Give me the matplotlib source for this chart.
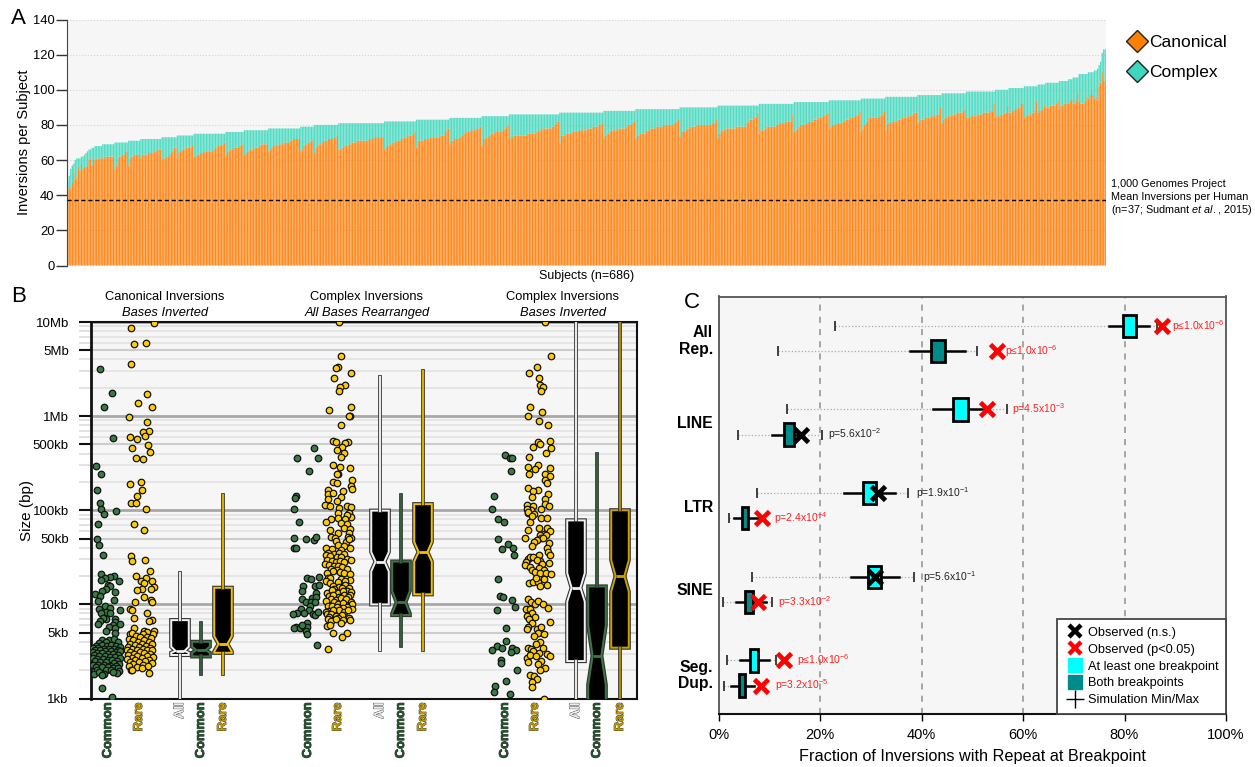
import numpy as np
import matplotlib
matplotlib.use('Agg')
import matplotlib.pyplot as plt
import matplotlib.patheffects as pe
from matplotlib.lines import Line2D

plt.rcParams['font.family'] = ['Liberation Sans', 'DejaVu Sans']
plt.rcParams['mathtext.fontset'] = 'custom'
plt.rcParams['mathtext.rm'] = 'Liberation Sans'
plt.rcParams['mathtext.it'] = 'Liberation Sans:italic'
plt.rcParams['mathtext.default'] = 'regular'

W, H = 1255, 767

# panel A: (total inversions, canonical count of each subject at that total)
subject_levels = [
    (48, [43]), (51, [44]), (55, [44]), (57, [47]), (58, [53]), (60, [49]), (61, [50, 56, 54]), (62, [58, 55]),
    (63, [56]), (64, [56]), (65, [57]), (66, [60, 61]), (67, [57, 60]),
    (68, [60, 60, 61, 61, 61]),
    (69, [61, 61, 62, 62, 62, 62, 62, 62]),
    (70, [55, 57, 61, 62, 62, 63, 63, 65, 65]),
    (71, [57, 61, 62, 62, 63, 63, 63, 63]),
    (72, [61, 63, 63, 63, 63, 64, 64, 64, 64, 65, 65, 66, 66, 66]),
    (73, [60, 61, 61, 62, 62, 63, 64, 65, 67, 67]),
    (74, [61, 64, 65, 66, 66, 66, 67, 67, 67, 67, 68]),
    (75, [62, 62, 63, 63, 64, 64, 64, 65, 65, 65, 65, 65, 65, 66, 67, 67, 68, 68, 68, 69, 70]),
    (76, [63, 65, 65, 66, 66, 67, 67, 67, 67, 68, 68, 69]),
    (77, [63, 64, 65, 65, 66, 66, 66, 67, 67, 67, 68, 68, 69, 69, 69, 69]),
    (78, [65, 66, 67, 68, 68, 68, 68, 69, 69, 69, 70, 70, 70, 70, 71, 71, 72, 72, 72, 72, 72]),
    (79, [65, 66, 68, 68, 69, 70, 70, 71, 72]),
    (80, [64, 67, 68, 69, 69, 70, 71, 71, 71, 72, 72, 72, 72, 73, 73, 74]),
    (81, [66, 66, 67, 67, 68, 68, 68, 69, 69, 70, 70, 70, 71, 71, 71, 71, 71, 71, 71, 71, 72, 72, 72, 73, 73, 73, 73, 73, 73, 73]),
    (82, [66, 67, 68, 68, 69, 69, 70, 70, 71, 71, 71, 72, 72, 73, 73, 73, 74, 74, 74, 75, 76]),
    (83, [67, 71, 71, 71, 71, 72, 72, 72, 72, 73, 73, 73, 73, 73, 73, 73, 74, 74, 74, 76, 77, 78]),
    (84, [69, 71, 71, 72, 72, 72, 73, 73, 74, 75, 75, 76, 76, 76, 77, 77, 77, 77, 78, 78, 79]),
    (85, [68, 72, 72, 73, 73, 74, 75, 75, 75, 76, 76, 76, 76, 76, 77, 78, 79, 80]),
    (86, [72, 73, 73, 74, 74, 74, 74, 74, 74, 74, 74, 74, 75, 75, 75, 75, 75, 75, 76, 76, 77, 77, 78, 78, 78, 78, 78, 78, 79, 79, 80, 81, 82]),
    (87, [70, 74, 74, 74, 75, 75, 75, 75, 76, 76, 76, 76, 76, 77, 77, 77, 77, 77, 77, 78, 78, 78, 79, 79, 79, 79, 80, 80, 81]),
    (88, [73, 74, 75, 75, 76, 77, 77, 77, 77, 78, 77, 78, 78, 78, 78, 79, 80, 80, 80, 81, 82]),
    (89, [72, 74, 74, 75, 75, 75, 75, 76, 77, 77, 78, 78, 78, 79, 79, 79, 79, 79, 80, 80, 80, 80, 80, 80, 80, 81, 81, 82, 83]),
    (90, [73, 76, 76, 76, 77, 78, 78, 79, 79, 79, 79, 80, 80, 80, 80, 80, 80, 80, 80, 80, 80, 81, 81, 81, 83]),
    (91, [73, 75, 76, 77, 77, 78, 78, 78, 78, 78, 78, 78, 79, 79, 79, 79, 79, 79, 79, 81, 82, 83, 83, 83, 84, 84, 87]),
    (92, [75, 77, 77, 77, 78, 79, 79, 79, 79, 79, 79, 80, 80, 81, 81, 81, 81, 81, 82, 82, 82, 82, 86]),
    (93, [76, 77, 78, 79, 80, 80, 80, 80, 81, 81, 82, 82, 82, 83, 83, 83, 84, 84, 84, 85, 85, 86, 87]),
    (94, [78, 79, 80, 80, 80, 81, 81, 81, 81, 82, 82, 83, 83, 83, 84, 84, 84, 85, 85, 86, 88]),
    (95, [76, 78, 80, 81, 82, 84, 84, 84, 84, 84, 84, 84, 85, 85, 86, 88]),
    (96, [77, 80, 81, 81, 82, 82, 82, 82, 83, 83, 83, 84, 84, 84, 84, 85, 85, 85, 86, 87, 87]),
    (97, [81, 82, 83, 83, 83, 84, 84, 84, 84, 85, 85, 85, 85, 86, 86, 90]),
    (98, [81, 83, 84, 84, 85, 85, 85, 86, 86, 86, 87, 87, 87, 87, 88, 89]),
    (99, [84, 84, 84, 85, 85, 85, 85, 85, 86, 86, 86, 87, 87, 87, 87, 87, 88, 88, 92]),
    (100, [84, 85, 85, 85, 86, 86, 87, 87, 91]),
    (101, [87, 87, 88, 88, 89, 89, 90, 90, 92, 92]),
    (102, [84, 85, 85, 86, 86, 87, 87, 88, 93]),
    (103, [87, 88, 88, 89, 91]),
    (104, [90, 90, 90, 91, 91, 91, 91, 92, 94]),
    (105, [89, 91, 91, 92, 92, 92]),
    (106, [92, 94, 95]),
    (107, [92, 92, 94, 98]),
    (109, [93, 92, 92, 92, 93, 96]),
    (110, [95, 97, 100, 97]),
    (111, [95, 96]), (112, [94]), (114, [102]), (116, [104]), (121, [110]), (123, [105, 105]),
]
a_ticks = [0, 20, 40, 60, 80, 100, 120, 140]
thousand_genomes_mean = 37

# panel B: tick positions of the strips/boxes and the size labels
group_titles = ['Canonical Inversions', 'Complex Inversions', 'Complex Inversions']
group_subtitles = ['Bases Inverted', 'All Bases Rearranged', 'Bases Inverted']
strip_pos = [108, 139, 308, 338, 505, 535]
box_pos = [180, 201, 223, 380, 401, 423, 576, 597, 620]
size_ticks = [1e3, 5e3, 1e4, 5e4, 1e5, 5e5, 1e6, 5e6, 1e7]
size_labels = ['1kb', '5kb', '10kb', '50kb', '100kb', '500kb', '1Mb', '5Mb', '10Mb']

# strip points as (jitter, log10 size in bp)
canon_common = [
    (-8, 6.50), (4, 6.25), (-4, 6.10), (5, 5.77), (-12, 5.47), (-7, 5.38), (-11, 5.22), (-8, 5.08), (-7, 5.01),
    (-4, 4.96), (8, 4.99), (-10, 4.85), (-11, 4.69), (-9, 4.63), (-5, 4.52), (-7, 4.32), (6, 4.30), (2, 4.29),
    (-3, 4.28), (11, 4.25), (-7, 4.26), (0, 4.21), (2, 4.19), (-2, 4.16), (-6, 4.14), (7, 4.13), (-13, 4.11),
    (-8, 4.09), (-10, 4.04), (6, 4.05), (-3, 3.98), (-9, 3.95), (2, 3.96), (12, 3.94), (-2, 3.92), (-7, 3.91),
    (2, 3.91), (-2, 3.84), (-5, 3.85), (7, 3.84), (-8, 3.82), (7, 3.81), (12, 3.79), (-10, 3.79), (5, 3.78),
    (1, 3.76), (7, 3.75), (-2, 3.72), (7, 3.70), (-6, 3.62), (1, 3.62), (6, 3.63), (-2, 3.60), (-9, 3.59),
    (10, 3.60), (-12, 3.56), (-6, 3.57), (-1, 3.56), (3, 3.57), (8, 3.56), (12, 3.55), (-15, 3.54), (-10, 3.54),
    (-4, 3.53), (1, 3.53), (6, 3.53), (10, 3.52), (-13, 3.51), (-8, 3.51), (-3, 3.50), (3, 3.50), (8, 3.49),
    (12, 3.50), (-15, 3.49), (-11, 3.48), (-6, 3.48), (0, 3.47), (5, 3.47), (10, 3.46), (-14, 3.46), (-9, 3.45),
    (-3, 3.45), (2, 3.44), (7, 3.44), (12, 3.43), (-15, 3.43), (-11, 3.42), (-5, 3.42), (0, 3.41), (4, 3.41),
    (9, 3.40), (-13, 3.40), (-8, 3.39), (-2, 3.39), (6, 3.38), (11, 3.37), (-15, 3.36), (-10, 3.36), (-4, 3.36),
    (2, 3.35), (8, 3.35), (-12, 3.33), (-6, 3.33), (0, 3.33), (5, 3.32), (10, 3.32), (-11, 3.30), (-2, 3.30),
    (3, 3.30), (11, 3.29), (-14, 3.26), (-9, 3.28), (-4, 3.26), (-6, 3.25), (9, 3.27), (5, 3.28), (-6, 3.11),
    (4, 3.02),
]
canon_rare = [
    (-8, 6.94), (15, 6.99), (-5, 6.77), (7, 6.78), (-8, 6.55), (8, 6.23), (-1, 6.14), (13, 6.10), (-10, 5.99),
    (8, 5.94), (10, 5.84), (4, 5.83), (6, 5.79), (-9, 5.78), (-2, 5.76), (9, 5.69), (-7, 5.66), (11, 5.62),
    (-3, 5.55), (4, 5.54), (2, 5.30), (-9, 5.28), (3, 5.22), (-2, 5.15), (-8, 5.08), (-3, 5.08), (7, 5.01),
    (-5, 4.85), (5, 4.79), (-8, 4.51), (-7, 4.46), (6, 4.47), (11, 4.35), (-3, 4.30), (7, 4.28), (2, 4.25),
    (13, 4.25), (5, 4.23), (15, 4.18), (12, 4.16), (3, 4.16), (-2, 4.15), (5, 4.08), (12, 4.05), (-4, 4.03),
    (13, 4.02), (-9, 3.95), (-7, 3.94), (8, 3.91), (-5, 3.86), (13, 3.83), (10, 3.82), (-5, 3.75), (5, 3.72),
    (15, 3.72), (8, 3.71), (-9, 3.69), (14, 3.69), (-7, 3.70), (4, 3.69), (-3, 3.66), (1, 3.65), (8, 3.65),
    (12, 3.64), (-10, 3.63), (-6, 3.62), (5, 3.62), (10, 3.60), (-1, 3.60), (-9, 3.58), (3, 3.58), (13, 3.58),
    (-4, 3.57), (7, 3.56), (-11, 3.55), (0, 3.55), (11, 3.54), (-7, 3.53), (4, 3.53), (-12, 3.52), (-2, 3.51),
    (8, 3.51), (13, 3.51), (-9, 3.49), (1, 3.49), (5, 3.48), (-5, 3.47), (11, 3.47), (-11, 3.46), (-2, 3.45),
    (8, 3.45), (14, 3.44), (-7, 3.43), (3, 3.43), (-12, 3.42), (-4, 3.41), (10, 3.41), (6, 3.40), (-9, 3.39),
    (0, 3.39), (13, 3.38), (-6, 3.37), (4, 3.36), (-10, 3.35), (9, 3.35), (-2, 3.33), (3, 3.32), (-8, 3.30),
    (-7, 3.30), (10, 3.27),
]
rearr_common = [
    (6, 5.66), (-11, 5.56), (10, 5.56), (1, 5.42), (-12, 5.15), (-13, 5.13), (-14, 5.01), (-9, 4.88), (-14, 4.70),
    (-2, 4.69), (6, 4.68), (8, 4.72), (-14, 4.60), (-12, 4.60), (11, 4.29), (-1, 4.28), (3, 4.27), (-5, 4.20),
    (-6, 4.14), (7, 4.20), (11, 4.21), (8, 4.12), (-6, 4.06), (4, 4.07), (8, 4.08), (-2, 4.02), (3, 4.03),
    (7, 4.03), (2, 3.98), (1, 3.94), (-7, 3.95), (-11, 3.91), (-15, 3.90), (-4, 3.91), (5, 3.90), (7, 3.89),
    (10, 3.92), (-1, 3.80), (-12, 3.76), (-14, 3.75), (-8, 3.75), (-4, 3.76), (-1, 3.76), (-6, 3.78), (-2, 3.72),
    (-1, 3.68), (9, 3.57),
]
rearr_rare = [
    (1, 7.0), (3, 6.64), (0, 6.52), (-2, 6.51), (13, 6.46), (-4, 6.40), (7, 6.33), (2, 6.31), (1, 6.27), (13, 6.10),
    (-9, 6.07), (12, 6.0), (11, 6.0), (3, 5.91), (-5, 5.74), (-2, 5.73), (10, 5.73), (7, 5.71), (4, 5.67), (-1, 5.64),
    (6, 5.61), (3, 5.57), (-5, 5.48), (2, 5.46), (12, 5.45), (0, 5.39), (-1, 5.38), (14, 5.32), (-5, 5.30), (-1, 5.29),
    (13, 5.26), (14, 5.23), (5, 5.20), (-10, 5.22), (-10, 5.17), (-5, 5.18), (3, 5.14), (-10, 5.12), (-1, 5.10),
    (-13, 5.06), (-8, 5.05), (1, 5.02), (9, 5.05), (13, 5.03), (0, 4.97), (11, 4.97), (13, 4.93), (9, 4.95), (-7, 4.91),
    (0, 4.92), (7, 4.91), (-12, 4.88), (3, 4.86), (9, 4.85), (6, 4.81), (-8, 4.79), (0, 4.76), (12, 4.80), (11, 4.76),
    (-7, 4.72), (-3, 4.70), (10, 4.72), (13, 4.71), (-2, 4.67), (8, 4.66), (11, 4.69), (0, 4.63), (6, 4.62), (12, 4.60),
    (-12, 4.60), (-6, 4.59), (3, 4.58), (-10, 4.55), (-4, 4.54), (1, 4.55), (6, 4.54), (-12, 4.52), (-8, 4.51), (-1, 4.50),
    (3, 4.50), (9, 4.48), (13, 4.47), (-11, 4.47), (-6, 4.46), (-2, 4.45), (2, 4.46), (6, 4.45), (-13, 4.43), (-9, 4.42),
    (-4, 4.41), (0, 4.41), (4, 4.40), (-7, 4.38), (-1, 4.37), (9, 4.38), (-5, 4.35), (2, 4.34), (6, 4.33), (-11, 4.33),
    (12, 4.32), (-10, 4.28), (-8, 4.28), (3, 4.27), (12, 4.26), (-12, 4.25), (-8, 4.23), (0, 4.24), (7, 4.25), (-5, 4.20),
    (7, 4.21), (1, 4.18), (-4, 4.16), (4, 4.17), (11, 4.17), (9, 4.14), (13, 4.13), (-3, 4.13), (0, 4.12), (-11, 4.12),
    (5, 4.14), (-6, 4.15), (12, 4.10), (6, 4.10), (-9, 4.09), (-5, 4.10), (1, 4.08), (10, 4.08), (-7, 4.06), (-2, 4.05),
    (3, 4.07), (7, 4.04), (11, 4.03), (-12, 4.04), (8, 4.06), (-4, 4.02), (0, 4.00), (5, 4.01), (13, 4.02), (14, 4.00),
    (-10, 3.98), (-6, 3.98), (2, 3.96), (9, 3.97), (14, 3.95), (-1, 3.97), (5, 3.96), (-9, 3.93), (-3, 3.93), (1, 3.94),
    (6, 3.92), (10, 3.94), (-12, 3.92), (-5, 3.94), (-11, 3.90), (-7, 3.90), (-2, 3.88), (4, 3.89), (-9, 3.87), (0, 3.86),
    (11, 3.86), (12, 3.83), (-10, 3.84), (-7, 3.82), (-2, 3.84), (5, 3.83), (3, 3.80), (-11, 3.77), (-8, 3.78), (-5, 3.70),
    (9, 3.70), (4, 3.65), (-10, 3.53),
]
inv_common = [
    (0, 5.59), (5, 5.56), (7, 5.55), (6, 5.42), (-11, 5.15), (-13, 5.01), (-7, 4.91), (-1, 4.88), (-7, 4.69), (3, 4.64),
    (-3, 4.59), (8, 4.60), (9, 4.52), (-7, 4.27), (-5, 4.09), (-2, 4.08), (7, 4.05), (10, 3.97), (-8, 3.94), (1, 3.75),
    (1, 3.61), (-8, 3.56), (-3, 3.54), (-13, 3.52), (7, 3.54), (11, 3.52), (6, 3.49), (-4, 3.41), (-4, 3.38), (12, 3.30),
    (1, 3.19), (-10, 3.13), (-11, 3.07), (5, 3.05),
]
inv_rare = [
    (10, 7.0), (16, 6.64), (2, 6.52), (-6, 6.46), (4, 6.40), (5, 6.33), (8, 6.31), (6, 6.27), (-5, 6.10), (7, 6.04),
    (-7, 6.0), (4, 5.95), (13, 5.91), (15, 5.74), (3, 5.73), (5, 5.70), (-2, 5.67), (16, 5.66), (11, 5.61), (-6, 5.57),
    (15, 5.45), (3, 5.48), (-7, 5.46), (0, 5.44), (10, 5.38), (15, 5.36), (-6, 5.38), (10, 5.32), (12, 5.29), (-7, 5.24),
    (3, 5.21), (-2, 5.20), (13, 5.17), (-3, 5.14), (10, 5.12), (-8, 5.06), (-2, 5.05), (10, 5.07), (14, 5.05), (-4, 5.0),
    (-8, 5.01), (6, 5.01), (-7, 4.97), (-1, 4.96), (6, 4.92), (12, 4.92), (-5, 4.88), (-7, 4.98), (-3, 4.94), (-7, 4.79),
    (12, 4.81), (4, 4.81), (15, 4.78), (-10, 4.71), (9, 4.75), (5, 4.74), (6, 4.70), (2, 4.68), (11, 4.74), (-1, 4.66),
    (14, 4.65), (12, 4.60), (13, 4.56), (-3, 4.62), (8, 4.70), (15, 4.52), (4, 4.52), (-7, 4.48), (-5, 4.50), (-2, 4.50),
    (5, 4.46), (-9, 4.45), (-10, 4.42), (-5, 4.40), (2, 4.47), (7, 4.43), (14, 4.44), (-3, 4.37), (4, 4.39), (9, 4.36),
    (0, 4.34), (5, 4.33), (11, 4.33), (16, 4.32), (-6, 4.23), (-2, 4.24), (3, 4.24), (9, 4.27), (5, 4.19), (12, 4.21),
    (1, 4.28), (-7, 4.06), (-4, 4.02), (0, 4.00), (3, 4.04), (8, 4.00), (13, 3.96), (-9, 3.95), (-5, 3.95), (-3, 3.91),
    (-8, 3.88), (0, 3.87), (-6, 3.84), (-3, 3.80), (-7, 3.76), (-8, 3.74), (2, 3.74), (6, 3.76), (15, 3.81), (3, 3.70),
    (9, 3.68), (-1, 3.66), (5, 3.60), (1, 3.58), (-7, 3.54), (-4, 3.53), (-2, 3.50), (8, 3.54), (12, 3.47), (4, 3.48),
    (-8, 3.43), (-5, 3.46), (-7, 3.39), (1, 3.45), (15, 3.45), (6, 3.40), (3, 3.37), (10, 3.32), (5, 3.30), (-5, 3.25),
    (-1, 3.24), (2, 3.21), (-3, 3.17), (-3, 3.12), (9, 3.00),
]

# box summaries in bp: whisker low, q1, notch low, median, notch high, q3, whisker high
box_stats = [
    [1e3, 2.9e3, 3.06e3, 3.2e3, 3.55e3, 6.8e3, 21.5e3],
    [1.8e3, 2.8e3, 3.06e3, 3.27e3, 3.55e3, 4e3, 6.3e3],
    [1.8e3, 3.06e3, 3.15e3, 3.8e3, 4.6e3, 15e3, 144e3],
    [3.3e3, 10e3, 22.4e3, 28.5e3, 36e3, 99e3, 2.6e6],
    [3.6e3, 7.7e3, 8e3, 10.5e3, 13.9e3, 28.5e3, 146e3],
    [3.3e3, 12.8e3, 28.5e3, 36e3, 46e3, 116e3, 3e6],
    [500, 2.5e3, 10.7e3, 15e3, 21.5e3, 78e3, 2e7],
    [500, 700, 1.4e3, 2.85e3, 6e3, 15.5e3, 400e3],
    [500, 3.47e3, 13.7e3, 20e3, 29.5e3, 100e3, 2e7],
]
box_names = ['All', 'Common', 'Rare'] * 3

# panel C: percentages, first row of each repeat = at least one breakpoint, second = both
repeat_names = ['All\nRep.', 'LINE', 'LTR', 'SINE', 'Seg.\nDup.']
sim_min = [22.9, 11.8, 13.5, 3.9, 7.5, 2.1, 6.6, 0.9, 1.7, 1.1]
whis_lo = [76.9, 37.8, 42.3, 10.5, 24.8, 3.1, 26.1, 3.4, 4.2, 2.4]
box_q1 = [79.8, 41.8, 46.2, 13.0, 28.4, 4.6, 29.5, 5.2, 6.2, 4.0]
box_q3 = [82.2, 44.6, 49.1, 14.9, 31.0, 5.9, 32.1, 6.7, 7.8, 5.3]
whis_hi = [84.9, 48.5, 52.0, 16.4, 34.7, 7.5, 35.5, 9.4, 9.9, 6.9]
sim_max = [86.5, 50.9, 56.9, 20.4, 37.3, 8.0, 38.5, 10.5, 11.3, 8.0]
observed = [87.3, 54.9, 52.9, 16.2, 31.5, 8.6, 30.8, 7.8, 13.0, 8.4]
significant = [True, True, True, False, False, True, False, True, True, True]
p_text = ['p≤1.0x10$^{-6}$', 'p≤1.0x10$^{-6}$', 'p=4.5x10$^{-3}$', 'p=5.6x10$^{-2}$', 'p=1.9x10$^{-1}$',
          'p=2.4x10$^{-4}$', 'p=5.6x10$^{-1}$', 'p=3.3x10$^{-2}$', 'p≤1.0x10$^{-6}$', 'p=3.2x10$^{-5}$']
p_at = [89.4, 56.4, 57.9, 21.6, 38.9, 11.0, 40.3, 11.8, 15.5, 11.1]
c_ticks = [0, 20, 40, 60, 80, 100]


def axes_px(left, top, right, bottom):
    return fig.add_axes([left / W, 1 - bottom / H, (right - left) / W, (bottom - top) / H])


def label_px(x, y, s, **kw):
    fig.text(x / W, 1 - y / H, s, **kw)


fig = plt.figure(figsize=(W / 100, H / 100), dpi=100)

# ---------- A ----------
ax1 = axes_px(67, 19.5, 1106, 265.5)
totals = []
canonical = []
for total, row in subject_levels:
    for c in row:
        totals.append(total)
        canonical.append(c)
totals = np.array(totals)
canonical = np.array(canonical)
subjects = np.arange(len(totals))
ax1.set_facecolor('#f6f6f6')
bars_can = ax1.bar(subjects, canonical, width=0.86, color='#ff8a1e', linewidth=0, zorder=2)
bars_com = ax1.bar(subjects, totals - canonical, bottom=canonical, width=0.86, color='#52dcc4', linewidth=0, zorder=2)
for p in list(bars_can) + list(bars_com):
    p.set_snap(False)
ax1.axhline(thousand_genomes_mean, color='black', lw=1, dashes=(3, 2), zorder=4)
ax1.set_xlim(-0.5, len(totals) - 0.5)
ax1.set_ylim(0, 140)
ax1.set_yticks(a_ticks)
ax1.set_xticks([])
ax1.grid(True, axis='y', color='#d4d4d4', linestyle=':', lw=0.8, zorder=1)
ax1.set_axisbelow(True)
ax1.tick_params(axis='y', length=8, width=1, color='#333333', labelsize=9.3, pad=1)
for s in ['top', 'right', 'bottom']:
    ax1.spines[s].set_visible(False)
ax1.spines['left'].set_color('#444444')
ax1.set_ylabel('Inversions per Subject', fontsize=10.5, labelpad=1)
ax1.text(0.5, -0.02, 'Subjects (n=686)', transform=ax1.transAxes, ha='center', va='top', fontsize=9)
ax1.legend(handles=[
    Line2D([], [], marker='D', ls='', ms=11.5, mfc='#ff8000', mec='#222222', mew=1, label='Canonical'),
    Line2D([], [], marker='D', ls='', ms=11.5, mfc='#3fd6bf', mec='#222222', mew=1, label='Complex')],
    loc='upper left', bbox_to_anchor=(1120 / W, 1 - 35 / H), bbox_transform=fig.transFigure, frameon=False,
    fontsize=12.5, handletextpad=-0.3, labelspacing=0.85, borderpad=0, borderaxespad=0)
label_px(1111, 184, '1,000 Genomes Project', fontsize=7.8, va='center')
label_px(1111, 197, 'Mean Inversions per Human', fontsize=7.8, va='center')
label_px(1111, 210, '(n=37; Sudmant $\\mathit{et\\ al.}$, 2015)', fontsize=7.8, va='center')
label_px(11, 18, 'A', fontsize=16, va='center')
label_px(11, 297, 'B', fontsize=16, va='center')
label_px(684, 302, 'C', fontsize=16, va='center')

# ---------- B ----------
ax2 = axes_px(91, 322, 637, 698.5)
ax2.set_facecolor('#f6f6f6')
ax2.set_yscale('log')
ax2.set_xlim(91, 637)
ax2.set_ylim(1e3, 1e7)
minor = []
for d in [1e3, 1e4, 1e5, 1e6]:
    for k in range(1, 10):
        y = d * k
        if k == 1:
            ax2.axhline(y, color='#a8a8a8', lw=2, zorder=1)
        elif k == 5:
            ax2.axhline(y, color='#cccccc', lw=1.5, zorder=1)
        else:
            ax2.axhline(y, color='#e4e4e4', lw=1.3, zorder=1)
            minor.append(y)
ax2.axhline(1e7, color='#a8a8a8', lw=2, zorder=1)
ax2.set_yticks(size_ticks)
ax2.set_yticklabels(size_labels, fontsize=9.5)
ax2.set_yticks(minor, minor=True)
ax2.yaxis.set_minor_formatter(matplotlib.ticker.NullFormatter())
ax2.tick_params(axis='y', which='major', length=9, width=1.5, color='#111111', pad=7)
ax2.tick_params(axis='y', which='minor', length=9, width=1.2, color='#dddddd')
ax2.set_ylabel('Size (bp)', fontsize=11, labelpad=-1)

strips = [canon_common, canon_rare, rearr_common, rearr_rare, inv_common, inv_rare]
strip_color = ['#3a7a45', '#ffcc00'] * 3
for pos, pts, col in zip(strip_pos, strips, strip_color):
    pts = np.array(pts)
    ax2.scatter(pos + pts[:, 0], 10 ** pts[:, 1], s=22, color=col, edgecolor='#111111', linewidth=0.9, zorder=3,
                clip_on=True)

box_edge = ['#f2f2f2', '#3c7744', '#f2c200'] * 2 + ['#f2f2f2', '#3c7744', '#c9a000']
whisk_col = ['#e8e8e8', '#2f6238', '#d8ac00'] * 2 + ['#e8e8e8', '#2f6238', '#a98900']
for pos, st, ec, wc in zip(box_pos, box_stats, box_edge, whisk_col):
    whislo, q1, cilo, med, cihi, q3, whishi = st
    stat = dict(whislo=whislo, q1=q1, cilo=cilo, med=med, cihi=cihi, q3=q3, whishi=whishi, fliers=[])
    b = ax2.bxp([stat], positions=[pos], widths=[17.5], shownotches=True, showcaps=False, showfliers=False,
                patch_artist=True, manage_ticks=False, zorder=3,
                boxprops=dict(facecolor='black', edgecolor=ec, linewidth=1.4),
                whiskerprops=dict(color=wc, linewidth=1.5),
                medianprops=dict(color=ec, linewidth=2))
    for w in b['whiskers']:
        w.set_path_effects([pe.Stroke(linewidth=2.7, foreground='#333333'), pe.Normal()])
    for bx in b['boxes']:
        bx.set_path_effects([pe.Stroke(linewidth=3, foreground='#333333'), pe.Normal()])

name_color = {'Common': '#22552b', 'Rare': '#c19a00', 'All': '#ededed'}
xpos = strip_pos + box_pos
xnames = ['Common', 'Rare'] * 3 + box_names
ax2.set_xticks(xpos)
ax2.set_xticklabels(xnames, rotation=90, fontsize=9.3, fontweight='bold', va='top', ha='center')
for t, n in zip(ax2.get_xticklabels(), xnames):
    t.set_color(name_color[n])
    t.set_path_effects([pe.withStroke(linewidth=0.6, foreground='#333333')])
ax2.tick_params(axis='x', length=0, pad=3)
for s in ax2.spines.values():
    s.set_color('#111111')
    s.set_linewidth(1.5)
ax2.spines['left'].set_linewidth(2)
for cx, title, sub in zip([165, 367, 563], group_titles, group_subtitles):
    label_px(cx, 297, title, fontsize=9.3, ha='center', va='center')
    label_px(cx, 313, sub, fontsize=9.3, ha='center', va='center', style='italic')

# ---------- C ----------
ax3 = axes_px(718.5, 296.5, 1226, 714)
ax3.set_facecolor('#f6f6f6')
ax3.set_xlim(0, 100)
ax3.set_ylim(5.49, 0.5)
for v in c_ticks[1:-1]:
    ax3.axvline(v, color='#8f8f8f', lw=1.1, dashes=(4, 4), zorder=1)
rows = []
for g in range(len(repeat_names)):
    rows += [g + 1 - 0.15, g + 1 + 0.15]
colors = ['#00ffff', '#008b8b']
for i, r in enumerate(rows):
    ax3.plot([sim_min[i], sim_max[i]], [r, r], color='#aaaaaa', lw=0.9, ls=':', zorder=2)
    ax3.plot([sim_min[i], sim_max[i]], [r, r], ls='', marker='|', ms=7, mew=1.2, color='#222222', zorder=2)
    stat = dict(whislo=whis_lo[i], q1=box_q1[i], med=(box_q1[i] + box_q3[i]) / 2, q3=box_q3[i], whishi=whis_hi[i], fliers=[])
    ax3.bxp([stat], positions=[r], widths=[0.265], orientation='horizontal', showcaps=False, showfliers=False,
            patch_artist=True, manage_ticks=False, zorder=3,
            boxprops=dict(facecolor=colors[i % 2], edgecolor='black', linewidth=2),
            whiskerprops=dict(color='black', linewidth=1.8),
            medianprops=dict(linewidth=0))
    col = 'red' if significant[i] else 'black'
    ax3.plot(observed[i], r, marker='x', ms=9.5, mew=3.4, color=col, ls='', zorder=4)
    txt_col = '#ff2020' if significant[i] else '#222222'
    ax3.text(p_at[i], r, p_text[i], color=txt_col, fontsize=7.5, va='center', zorder=5)
ax3.set_yticks(range(1, 6))
ax3.set_yticklabels(repeat_names, fontsize=11.3, fontweight='bold', linespacing=1.15)
ax3.tick_params(axis='y', length=0, pad=4)
ax3.set_xticks(c_ticks)
ax3.set_xticklabels([str(v) + '%' for v in c_ticks], fontsize=10.5)
ax3.tick_params(axis='x', length=5, width=1, pad=5)
ax3.set_xlabel('Fraction of Inversions with Repeat at Breakpoint', fontsize=11.7, labelpad=5)
for s in ['top', 'left', 'right']:
    ax3.spines[s].set_color('#555555')
    ax3.spines[s].set_linewidth(1.3)
ax3.spines['bottom'].set_color('#111111')
ax3.spines['bottom'].set_linewidth(1.5)
leg = ax3.legend(handles=[
    Line2D([], [], marker='x', ls='', ms=9, mew=3.2, color='black', label='Observed (n.s.)'),
    Line2D([], [], marker='x', ls='', ms=9, mew=3.2, color='red', label='Observed (p<0.05)'),
    Line2D([], [], marker='s', ls='', ms=10, color='#00ffff', label='At least one breakpoint'),
    Line2D([], [], marker='s', ls='', ms=10, color='#008b8b', label='Both breakpoints'),
    Line2D([], [], marker='+', ls='', ms=13, mew=1, color='black', label='Simulation Min/Max')],
    loc='lower right', borderaxespad=0, fancybox=False, framealpha=1, edgecolor='#444444', fontsize=9.2,
    handlelength=1.6, handletextpad=0.2, labelspacing=0.38, borderpad=0.6)
leg.get_frame().set_linewidth(1.3)
leg.set_zorder(6)

fig.savefig('out.png', dpi=100)
